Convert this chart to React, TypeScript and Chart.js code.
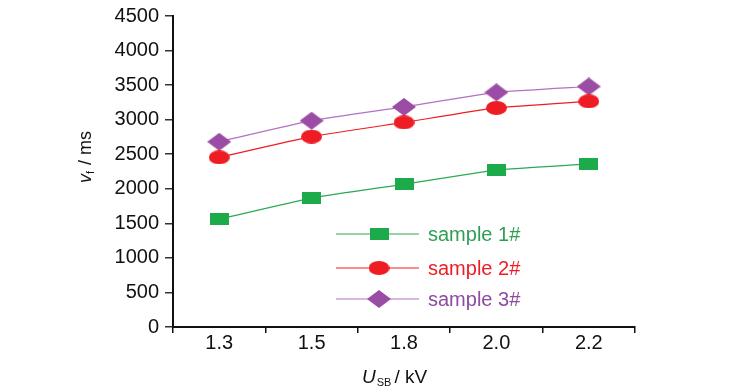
import React, { useEffect, useRef } from "react";
import { Chart, registerables } from "chart.js";

Chart.register(...registerables);

const categories = ["1.3", "1.5", "1.8", "2.0", "2.2"];
const sample1 = [1560, 1865, 2065, 2270, 2360];
const sample2 = [2455, 2755, 2960, 3170, 3265];
const sample3 = [2680, 2985, 3185, 3395, 3480];
const seriesNames = ["sample 1#", "sample 2#", "sample 3#"];

const FONT = "'Liberation Sans', Arial, sans-serif";

function makeMarker(kind: string, fill: string): HTMLCanvasElement {
  const c = document.createElement("canvas");
  let w = 19, h = 12;
  if (kind === "ellipse") { w = 21; h = 14; }
  if (kind === "diamond") { w = 24; h = 18; }
  c.width = w; c.height = h;
  const ctx = c.getContext("2d")!;
  ctx.fillStyle = fill;
  if (kind === "rect") {
    ctx.fillRect(0, 0, w, h);
  } else if (kind === "ellipse") {
    ctx.beginPath();
    ctx.ellipse(w / 2, h / 2, w / 2, h / 2, 0, 0, Math.PI * 2);
    ctx.fill();
  } else {
    ctx.beginPath();
    ctx.moveTo(w / 2, 0);
    ctx.lineTo(w, h / 2);
    ctx.lineTo(w / 2, h);
    ctx.lineTo(0, h / 2);
    ctx.closePath();
    ctx.fill();
  }
  return c;
}

const textColors = ["#2E9E55", "#EE1D23", "#8E4BA0"];

const overlayPlugin = {
  id: "overlay",
  afterDraw(chart: any) {
    const ctx = chart.ctx as CanvasRenderingContext2D;
    ctx.save();
    // legend
    const rows = [234, 268, 299];
    chart.data.datasets.forEach((ds: any, i: number) => {
      const y = rows[i];
      ctx.strokeStyle = ds.borderColor;
      ctx.lineWidth = ds.borderWidth;
      ctx.beginPath();
      ctx.moveTo(336, y);
      ctx.lineTo(419, y);
      ctx.stroke();
      const img = ds.pointStyle as HTMLCanvasElement;
      ctx.drawImage(img, 379 - img.width / 2, y - img.height / 2);
      ctx.fillStyle = textColors[i];
      ctx.font = `20px ${FONT}`;
      ctx.textBaseline = "middle";
      ctx.textAlign = "left";
      ctx.fillText(seriesNames[i], 428, y + 1);
    });

    // x title
    ctx.fillStyle = "#111";
    ctx.textBaseline = "alphabetic";
    let x = 362;
    const by = 383;
    ctx.font = `italic 19px ${FONT}`;
    ctx.fillText("U", x, by);
    x += ctx.measureText("U").width + 1;
    ctx.font = `11px ${FONT}`;
    ctx.fillText("SB", x, by + 3);
    x += ctx.measureText("SB").width + 3;
    ctx.font = `19px ${FONT}`;
    ctx.fillText("/ kV", x, by);

    // y title
    ctx.translate(91, 157);
    ctx.rotate(-Math.PI / 2);
    const p1 = "v";
    ctx.font = `italic 18px ${FONT}`;
    const w1 = ctx.measureText(p1).width;
    ctx.font = `11px ${FONT}`;
    const w2 = ctx.measureText("f").width;
    ctx.font = `18px ${FONT}`;
    const w3 = ctx.measureText(" / ms").width;
    const total = w1 + w2 + 1 + w3;
    let tx = -total / 2;
    ctx.font = `italic 18px ${FONT}`;
    ctx.fillText(p1, tx, 0);
    tx += w1;
    ctx.font = `11px ${FONT}`;
    ctx.fillText("f", tx, 3);
    tx += w2 + 1;
    ctx.font = `18px ${FONT}`;
    ctx.fillText(" / ms", tx, 0);
    ctx.restore();
  },
};

export default function App() {
  const ref = useRef<HTMLCanvasElement | null>(null);
  useEffect(() => {
    document.body.style.margin = "0";
    const green = "#1DAA4B";
    const red = "#EE1D23";
    const purple = "#9B4DA5";
    const chart = new Chart(ref.current!, {
      type: "line",
      data: {
        labels: categories,
        datasets: [
          {
            label: seriesNames[0],
            data: sample1,
            borderColor: "#2BAA55",
            borderWidth: 1.2,
            pointStyle: makeMarker("rect", green) as any,
            tension: 0.15,
          },
          {
            label: seriesNames[1],
            data: sample2,
            borderColor: red,
            borderWidth: 1.2,
            pointStyle: makeMarker("ellipse", red) as any,
            tension: 0.15,
          },
          {
            label: seriesNames[2],
            data: sample3,
            borderColor: "#B272C4",
            borderWidth: 1.2,
            pointStyle: makeMarker("diamond", purple) as any,
            tension: 0.15,
          },
        ],
      },
      options: {
        animation: false,
        responsive: false,
        maintainAspectRatio: false,
        layout: { padding: { left: 0, right: 94, top: 15, bottom: 0 } },
        plugins: { legend: { display: false }, tooltip: { enabled: false } },
        scales: {
          x: {
            type: "category",
            offset: true,
            grid: {
              display: true,
              offset: true,
              drawOnChartArea: false,
              drawTicks: true,
              tickLength: 6,
              color: "#111",
              lineWidth: 1.5,
            },
            border: { display: true, color: "#111", width: 2 },
            ticks: {
              color: "#111",
              font: { family: FONT, size: 20 },
              padding: -2,
              maxRotation: 0,
            },
            afterFit(scale: any) {
              scale.height = 63;
            },
          },
          y: {
            min: 0,
            max: 4500,
            ticks: {
              stepSize: 500,
              color: "#111",
              font: { family: FONT, size: 20, lineHeight: 1 },
              padding: 6,
              callback: (v: any) => String(v),
            },
            grid: {
              display: true,
              drawOnChartArea: false,
              drawTicks: true,
              tickLength: 8,
              color: "#333",
              lineWidth: 1.5,
            },
            border: { display: true, color: "#111", width: 2 },
            afterFit(scale: any) {
              scale.width = 173;
            },
          },
        },
      },
      plugins: [overlayPlugin],
    });
    return () => chart.destroy();
  }, []);
  return (
    <div style={{ width: 729, height: 390, background: "#fff" }}>
      <canvas ref={ref} width={729} height={390} style={{ display: "block" }} />
    </div>
  );
}
